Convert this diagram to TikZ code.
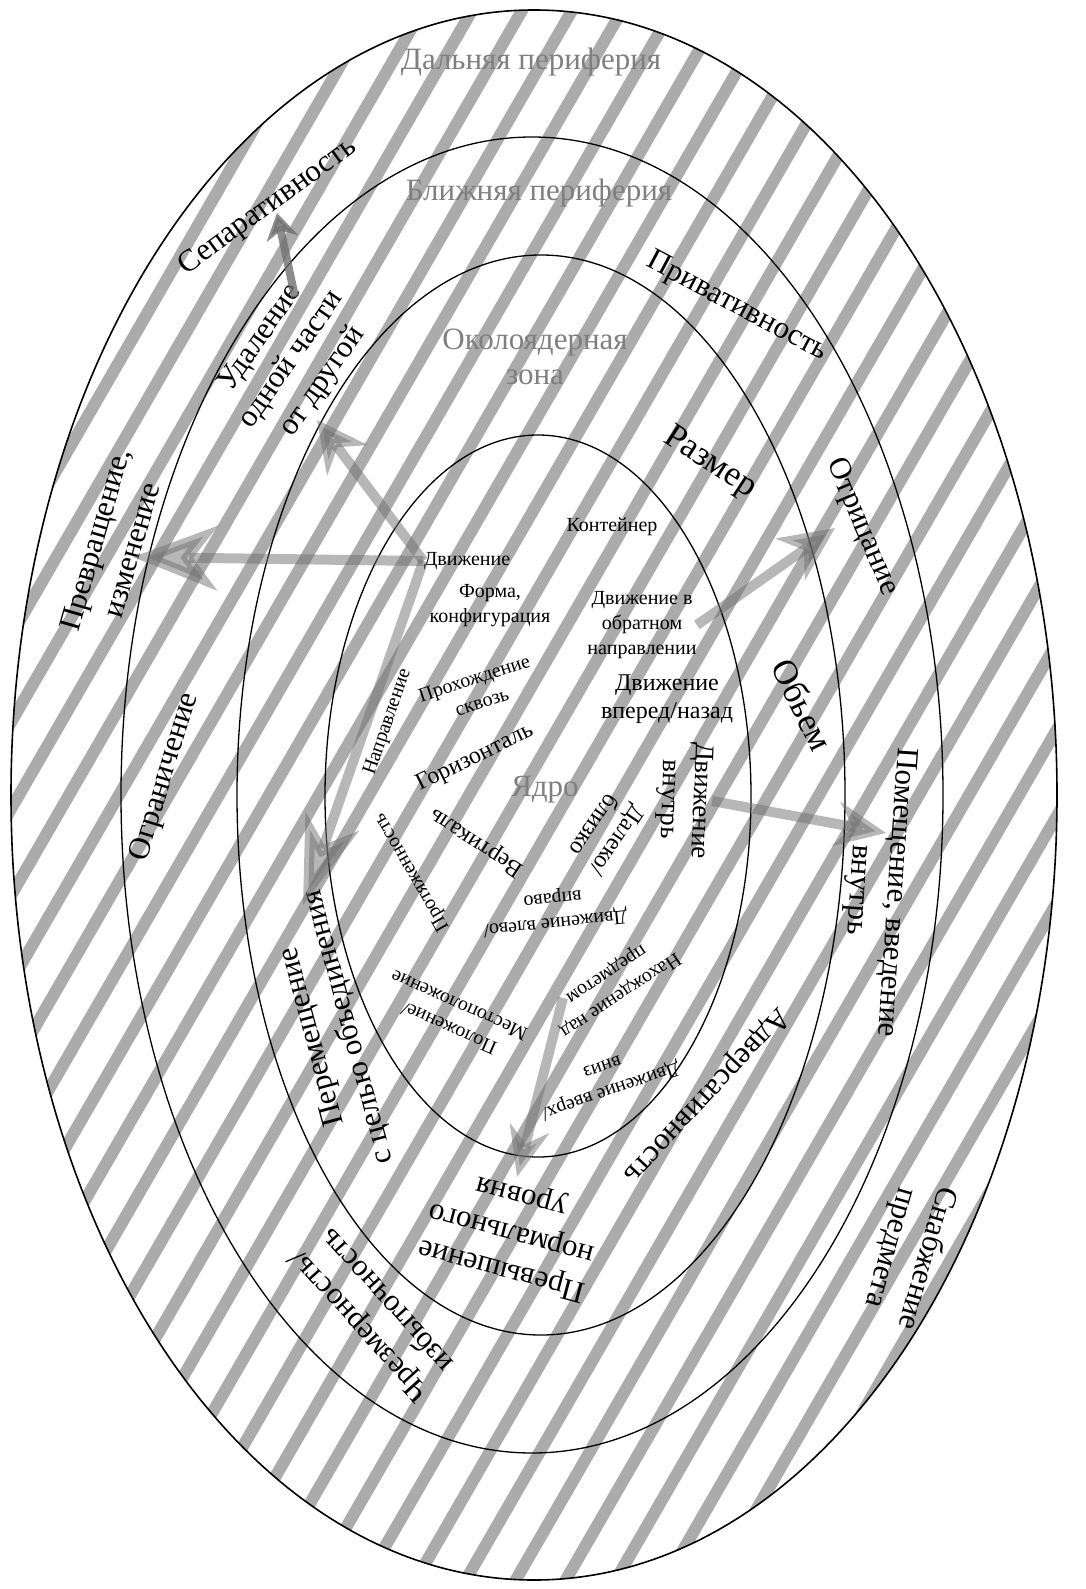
\documentclass[tikz,border=0pt]{standalone}
\usepackage{fontspec}
\setmainfont{Liberation Serif}
\usetikzlibrary{arrows.meta}
\definecolor{Ink}{HTML}{000000}
\definecolor{Zone}{HTML}{7F7F7F}
\definecolor{Stripe}{HTML}{ABABAB}
\definecolor{Flow}{HTML}{707070}
\tikzset{
    ring/.style={draw=Ink, line width=0.65pt},
    stripe/.style={draw=Stripe, line width=6pt},
    zonelabel/.style={text=Zone, align=center, inner sep=0pt, font=\fontsize{15.5}{17.5}\selectfont},
    biglabel/.style={text=Ink, align=center, inner sep=0pt, font=\fontsize{15.5}{19}\selectfont},
    hugelabel/.style={text=Ink, align=center, inner sep=0pt, font=\fontsize{17.5}{20}\selectfont},
    corelabel/.style={text=Ink, align=center, inner sep=0pt, font=\fontsize{13.5}{16}\selectfont},
    midlabel/.style={text=Ink, align=center, inner sep=0pt, font=\fontsize{12}{14}\selectfont},
    smalllabel/.style={text=Ink, align=center, inner sep=0pt, font=\fontsize{10}{12.5}\selectfont},
    flow/.style n args={3}{draw=Flow, line width=5pt, opacity=0.5, -{Stealth[length=#1, width=#2, inset=#3]}},
}

\begin{document}
\begin{tikzpicture}[x=0.5pt, y=-0.5pt]
    \useasboundingbox (0,0) rectangle (1086,1589);
    \fill[white] (0,0) rectangle (1086,1589);

    % Штриховка внутри внешнего эллипса
    \begin{scope}
        \clip (534,795) ellipse [x radius=523, y radius=785];
        \foreach \k in {-8,...,32}
            \draw[stripe] ({439.6+50*\k},-20) -- ({-501.6+50*\k},1610);
    \end{scope}

    % Зоны
    \draw[ring, line width=0.8pt] (534,795) ellipse [x radius=523, y radius=785];
    \draw[ring] (532,795) ellipse [x radius=411, y radius=658];
    \draw[ring] (541,795) ellipse [x radius=304, y radius=540];
    \draw[ring] (538,796) ellipse [x radius=213, y radius=361];

    % Названия зон
    \node[zonelabel] (far) at (531,62) {Дальняя периферия};
    \node[zonelabel] (near) at (539,193) {Ближняя периферия};
    \node[zonelabel] (okolo) at (535,357) {Околоядерная\\зона};
    \node[zonelabel] (yadro) at (545,790) {Ядро};

    % Ядро
    \node[smalllabel] (kont) at (612,527) {Контейнер};
    \node[smalllabel] (dvizh) at (467,561) {Движение};
    \node[smalllabel] (forma) at (490,606) {Форма,\\конфигурация};
    \node[smalllabel] (obrat) at (642,625) {Движение в\\обратном\\направлении};
    \node[midlabel] (vpered) at (667,699) {Движение\\вперед/назад};
    \node[smalllabel, rotate=18] (prohod) at (478,690) {Прохождение\\сквозь};
    \node[midlabel, rotate=26] (gorizont) at (475,758) {Горизонталь};
    \node[smalllabel, rotate=71] (napr) at (388,722) {Направление};
    \node[midlabel, rotate=147] (vertik) at (477,842) {Вертикаль};
    \node[smalllabel, rotate=120] (protyazh) at (412,872) {Протяженность};
    \node[midlabel, rotate=-124] (dalek) at (606,833) {Далеко/\\близко};
    \node[corelabel, rotate=-92] (vnutr) at (684,800) {Движение\\внутрь};
    \node[smalllabel, rotate=186] (vlevo) at (554,910) {Движение влево/\\вправо};
    \node[smalllabel, rotate=156] (polozh) at (454,1017) {Положение/\\Местоположение};
    \node[smalllabel, rotate=213.6] (nahozh) at (613,984) {Нахождение над\\предметом};
    \node[smalllabel, rotate=199] (vverh) at (607,1080) {Движение вверх/\\вниз};

    % Периферия
    \node[biglabel, rotate=36] (separ) at (268,207) {Сепаративность};
    \node[biglabel, rotate=55] (udal) at (292,360) {Удаление\\одной части\\от другой};
    \node[biglabel, rotate=-28] (privat) at (737,307) {Привативность};
    \node[hugelabel, rotate=-33] (razmer) at (710,463) {Размер};
    \node[biglabel, rotate=-67] (otric) at (862,527) {Отрицание};
    \node[biglabel, rotate=74] (prevr) at (113,545) {Превращение,\\изменение};
    \node[biglabel, rotate=73] (ogran) at (165,777) {Ограничение};
    \node[hugelabel, rotate=-64] (obem) at (803,705) {Обьем};
    \node[biglabel, rotate=-94] (pomesh) at (876,891) {Помещение, введение\\внутрь};
    \node[biglabel, rotate=105] (perem) at (331,1032) {Перемещение\\с целью объединения};
    \node[biglabel, rotate=165] (prevysh) at (512,1232) {Превышение\\нормального\\уровня};
    \node[biglabel, rotate=132] (chrez) at (372,1314) {Чрезмерность/\\избыточность};
    \node[biglabel, rotate=-133] (advers) at (706,1095) {Адверсативность};
    \node[biglabel, rotate=-106] (snab) at (908,1253) {Снабжение\\предмета};

    % Концы стрелок
    \coordinate (tipPrevr) at (133,557);
    \coordinate (tipUdal) at (317,420);
    \coordinate (tipPerem) at (303,905);
    \coordinate (tipOtric) at (835,528);
    \coordinate (tipPomesh) at (886,833);
    \coordinate (startNah) at (563,998);
    \coordinate (tipPrevysh) at (517,1177);
    \coordinate (startUdal) at (295,297);
    \coordinate (tipSepar) at (277,213);

    % Стрелки
    \draw[flow={42pt}{32pt}{12pt}] (dvizh.west) -- (tipPrevr);
    \draw[flow={25pt}{25pt}{8pt}] (dvizh.west) -- (tipUdal);
    \draw[flow={44pt}{28pt}{12pt}] (dvizh.west) -- (tipPerem);
    \draw[flow={27pt}{25pt}{8pt}] (obrat.east) -- (tipOtric);
    \draw[flow={25pt}{22pt}{8pt}] (vnutr.north) -- (tipPomesh);
    \draw[flow={25pt}{20pt}{8pt}] (startNah) -- (tipPrevysh);
    \draw[flow={13pt}{16pt}{4pt}, line width=4pt, opacity=0.8] (startUdal) -- (tipSepar);
\end{tikzpicture}
\end{document}
